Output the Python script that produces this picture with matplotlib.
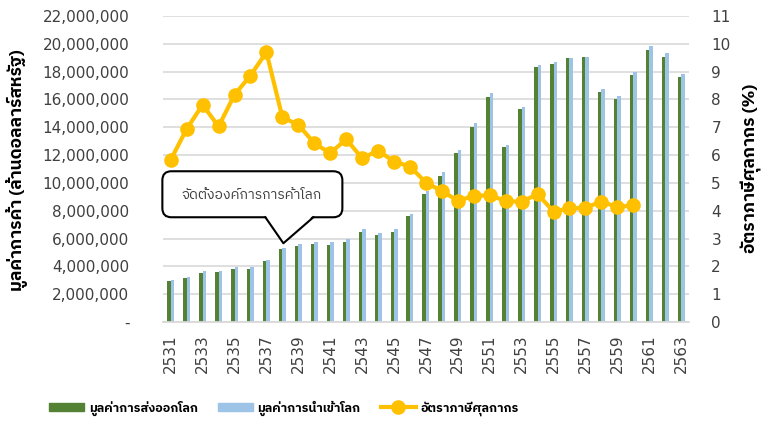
import matplotlib
matplotlib.use('Agg')
import numpy as np
import matplotlib.pyplot as plt
import matplotlib.transforms as mtransforms
from matplotlib import font_manager
from matplotlib.patches import FancyBboxPatch, Polygon, Patch
from matplotlib.lines import Line2D
from fontTools.ttLib import TTFont

# data
years = list(range(2531, 2564))
exports = [2.93, 3.14, 3.55, 3.57, 3.81, 3.84, 4.37, 5.23, 5.47, 5.63, 5.56, 5.76,
           6.46, 6.23, 6.50, 7.63, 9.23, 10.53, 12.16, 14.05, 16.21, 12.59, 15.32,
           18.37, 18.54, 18.99, 19.04, 16.57, 16.07, 17.77, 19.57, 19.04, 17.63]
imports = [3.02, 3.24, 3.67, 3.69, 3.96, 3.93, 4.46, 5.35, 5.59, 5.76, 5.73, 5.95,
           6.67, 6.43, 6.69, 7.79, 9.42, 10.79, 12.37, 14.29, 16.50, 12.73, 15.47,
           18.47, 18.70, 19.00, 19.06, 16.76, 16.24, 18.01, 19.86, 19.33, 17.84]
tariff = [5.83, 6.94, 7.81, 7.03, 8.17, 8.86, 9.70, 7.36, 7.09, 6.43, 6.07, 6.57,
          5.89, 6.16, 5.77, 5.59, 5.01, 4.71, 4.36, 4.53, 4.56, 4.35, 4.32, 4.60,
          3.97, 4.09, 4.11, 4.33, 4.13, 4.20, np.nan, np.nan, np.nan]
exports = np.array(exports) * 1e6
imports = np.array(imports) * 1e6

label_exp = 'มูลค่าการส่งออกโลก'
label_imp = 'มูลค่าการนำเข้าโลก'
label_tariff = 'อัตราภาษีศุลกากร'
ylabel_left = 'มูลค่าการค้า (ล้านดอลลาร์สหรัฐ)'
ylabel_right = 'อัตราภาษีศุลกากร (%)'
note = 'จัดตั้งองค์การการค้าโลก'
note_year = 2538


def find_thai_font():
    cands = sorted(font_manager.fontManager.ttflist,
                   key=lambda f: (0 if 'thai' in f.name.lower() else 1, f.name))
    for f in cands:
        try:
            tt = TTFont(f.fname, fontNumber=0, lazy=True)
            if 0x0E01 in tt.getBestCmap():
                return f.name
        except Exception:
            pass
    return 'DejaVu Sans'


thai = find_thai_font()
fam = [thai, 'DejaVu Sans']
plt.rcParams['font.family'] = ['DejaVu Sans', thai]

green = '#548235'
blue = '#9DC3E6'
gold = '#FFC000'
grid = '#D9D9D9'
txt = '#404040'

W, H = 764, 422
fig = plt.figure(figsize=(W / 100, H / 100), dpi=100)
ax = fig.add_axes([0.213, 0.237, 0.689, 0.725])
ax2 = ax.twinx()

x = np.arange(len(years))
w = 0.22
ax.bar(x - w / 2, exports, w, color=green, zorder=2)
ax.bar(x + w / 2, imports, w, color=blue, zorder=2)

ax2.plot(x, tariff, color=gold, lw=3, marker='o', ms=9.5, zorder=3)

ax.set_xlim(-0.5, len(years) - 0.5)
ax.set_ylim(0, 22e6)
ax2.set_ylim(0, 11)

ax.set_yticks(np.arange(0, 22e6 + 1, 2e6))
ax.set_yticklabels(['-' if v == 0 else f'{int(v):,}' for v in ax.get_yticks()])
ax2.set_yticks(range(0, 12))
ax.set_xticks(x[::2])
ax.set_xticklabels([str(y) for y in years[::2]], rotation=90)

ax.yaxis.grid(True, color=grid, lw=1.2)
ax.set_axisbelow(True)
for a in (ax, ax2):
    for s in a.spines.values():
        s.set_visible(False)
    a.tick_params(length=0, labelsize=11, labelcolor=txt)
ax.spines['bottom'].set_visible(True)
ax.spines['bottom'].set_color(grid)
ax.spines['bottom'].set_linewidth(1.3)
ax.tick_params(axis='y', pad=24)
ax.tick_params(axis='x', pad=9)
ax2.tick_params(axis='y', pad=16)

fig.text(17 / W, 1 - 170 / H, ylabel_left, family=fam, fontsize=12.5, fontweight='bold',
         rotation=90, ha='center', va='center')
fig.text(752 / W, 1 - 168 / H, ylabel_right, family=fam, fontsize=12.5, fontweight='bold',
         rotation=90, ha='center', va='center')

# callout pointing to the WTO year (pixel offsets from the tip above the bar)
i = years.index(note_year)
tx, ty = ax.transData.transform((i, exports[i]))
tx, ty = tx + 1, ty + 6
pix = mtransforms.IdentityTransform()
fig.add_artist(FancyBboxPatch((tx - 121, ty + 26), 180, 46,
                              boxstyle='round,pad=0,rounding_size=9', transform=pix,
                              fc='white', ec='black', lw=1.5, zorder=5))
pts = [(tx - 18, ty + 26), (tx, ty), (tx + 30, ty + 26)]
cover = [(tx - 18.5, ty + 28.5), (tx, ty), (tx + 30.5, ty + 28.5)]
fig.add_artist(Polygon(cover, closed=True, fc='white', ec='none', transform=pix, zorder=6))
fig.add_artist(Line2D([p[0] for p in pts], [p[1] for p in pts], color='black', lw=1.5,
                      transform=pix, zorder=7))
fig.text((tx - 32) / W, (ty + 48) / H, note, family=fam, fontsize=10,
         color=txt, ha='center', va='center', zorder=8)

handles = [Patch(color=green), Patch(color=blue),
           Line2D([], [], color=gold, lw=3, marker='o', ms=9.5)]
fig.legend(handles, [label_exp, label_imp, label_tariff], loc='center left',
           bbox_to_anchor=(45 / W, 1 - 408 / H), ncol=3, frameon=False, handlelength=2.8,
           handletextpad=0.4, columnspacing=1.6, borderaxespad=0, borderpad=0.3,
           prop={'family': fam, 'size': 9, 'weight': 'bold'})

fig.savefig('out.png', dpi=100)
